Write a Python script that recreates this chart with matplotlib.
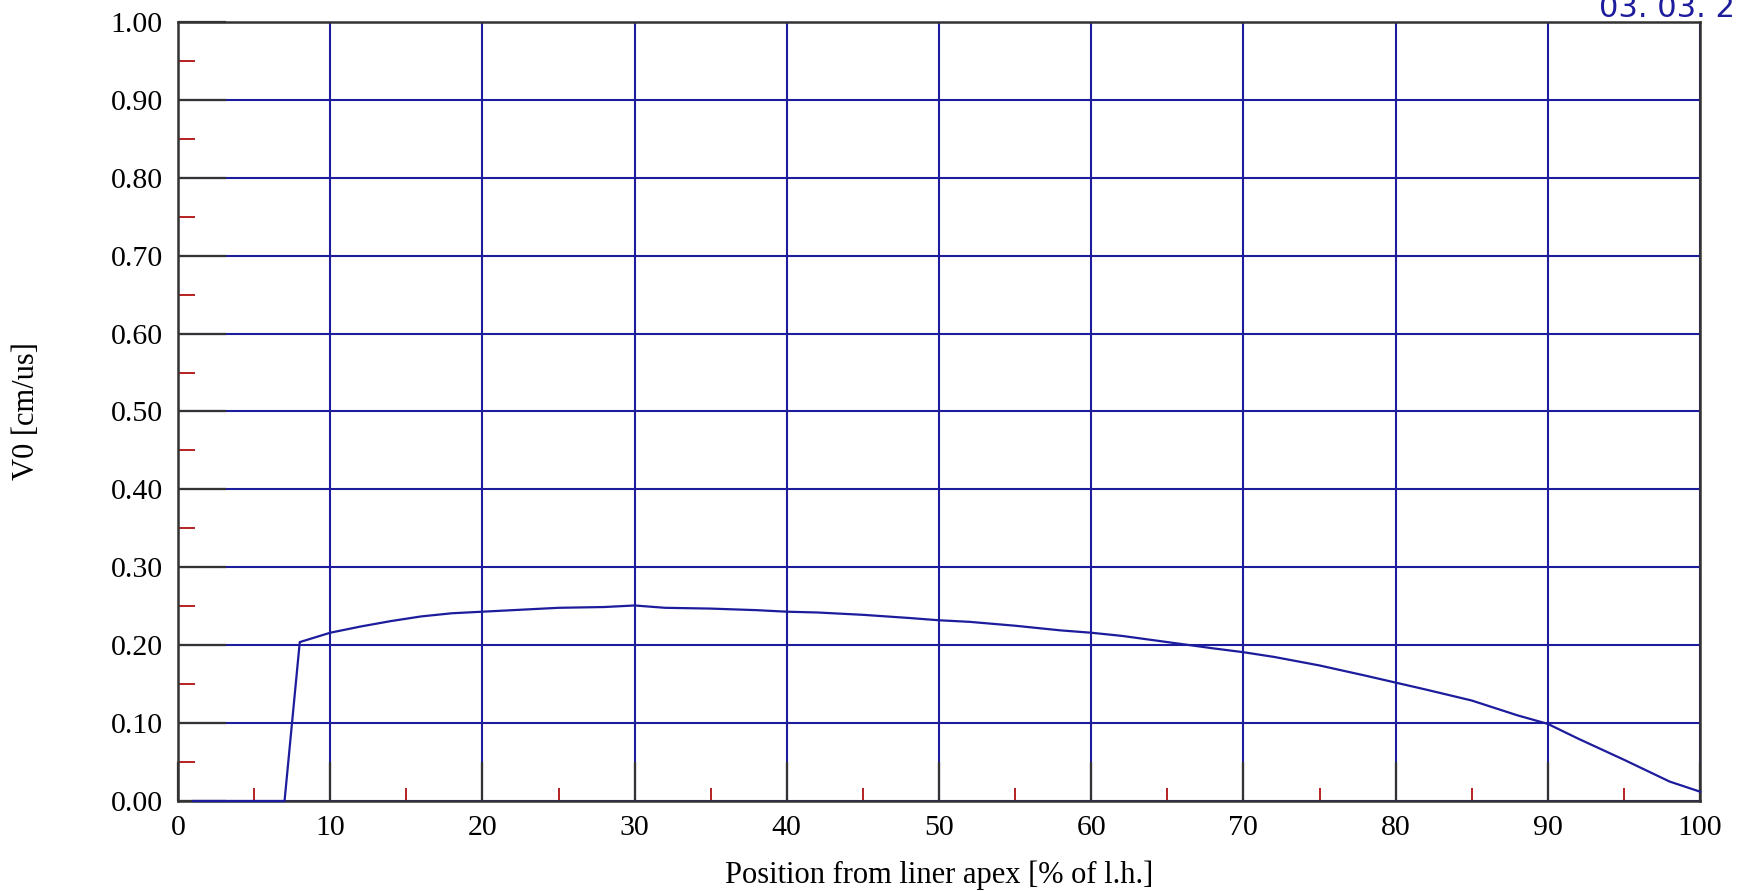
import matplotlib.pyplot as plt
from matplotlib.ticker import MultipleLocator, FormatStrFormatter

# velocity profile along the liner
pos = [1, 7, 8, 10, 12, 14, 16, 18, 20, 22, 25, 28, 30, 32, 35, 38, 40, 42, 45, 48,
       50, 52, 55, 58, 60, 62, 65, 68, 70, 72, 75, 78, 80, 82, 85, 88, 90, 92, 95, 98, 100]
v0 = [0.0, 0.0, 0.204, 0.216, 0.224, 0.231, 0.237, 0.241, 0.243, 0.245, 0.248, 0.249,
      0.251, 0.248, 0.247, 0.245, 0.243, 0.242, 0.239, 0.235, 0.232, 0.230, 0.225, 0.219,
      0.216, 0.212, 0.204, 0.196, 0.191, 0.185, 0.174, 0.161, 0.152, 0.143, 0.129, 0.110,
      0.099, 0.080, 0.053, 0.025, 0.012]

BLUE = "#1c1c9c"
serif = ["Liberation Serif", "DejaVu Serif"]

fig = plt.figure(figsize=(17.4, 8.91), dpi=100)
ax = fig.add_axes([178 / 1740, 1 - 801 / 891, 1522 / 1740, 779 / 891])

ax.plot(pos, v0, color=BLUE, lw=1.6, zorder=3, clip_on=False)

ax.set_xlim(0, 100)
ax.set_ylim(0, 1)
ax.xaxis.set_major_locator(MultipleLocator(10))
ax.xaxis.set_minor_locator(MultipleLocator(5))
ax.yaxis.set_major_locator(MultipleLocator(0.1))
ax.yaxis.set_minor_locator(MultipleLocator(0.05))
ax.yaxis.set_major_formatter(FormatStrFormatter("%.2f"))

# blue grid, black major ticks drawn inward on top of it, short red minor ticks
ax.grid(True, which="major", color=BLUE, lw=1.5)
ax.tick_params(axis="x", which="major", direction="in", length=28, width=1.6,
               color="#333333", pad=10)
ax.tick_params(axis="y", which="major", direction="in", length=34.5, width=1.6,
               color="#333333", pad=11)
ax.tick_params(axis="x", which="minor", direction="in", length=9.5, width=1.3,
               color="#b01010")
ax.tick_params(axis="y", which="minor", direction="in", length=12, width=1.3,
               color="#b01010")
for s in ax.spines.values():
    s.set_color("#333333")
    s.set_linewidth(1.8)

for lab in ax.get_xticklabels() + ax.get_yticklabels():
    lab.set_family(serif)
    lab.set_fontsize(21.5)

ax.set_xlabel("Position from liner apex [% of l.h.]", family=serif, fontsize=22, labelpad=14)
ax.set_ylabel("V0 [cm/us]", family=serif, fontsize=22)
ax.yaxis.set_label_coords(-0.090, 0.5)

fig.text(1599 / 1740, 1 - 17 / 891, "03. 03. 2", color=BLUE, fontsize=22,
         family="DejaVu Sans", va="baseline", ha="left")

fig.savefig("out.png", dpi=100)
